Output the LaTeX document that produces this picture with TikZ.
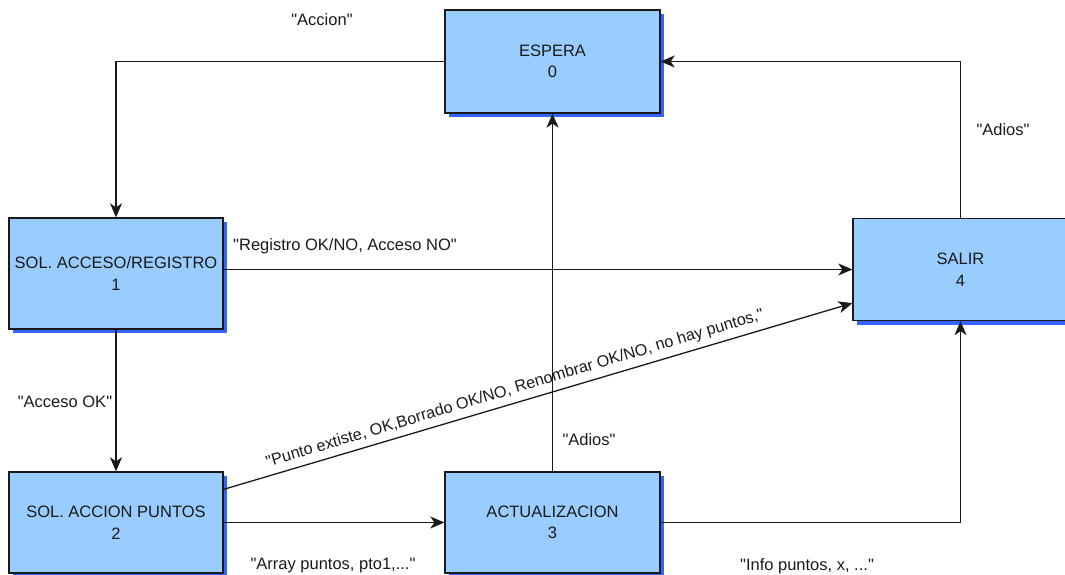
\documentclass[tikz,border=0pt]{standalone}
\usepackage{fontspec}
\setmainfont{Liberation Sans}[Ligatures=TeXOff]
\usetikzlibrary{arrows.meta,shadows}
\definecolor{boxfill}{HTML}{99CCFF}
\definecolor{shadowblue}{HTML}{3366FF}
\definecolor{linec}{HTML}{1A1A1A}
\begin{document}
\begin{tikzpicture}[x=1pt,y=-1pt,
  every node/.style={font=\fontsize{16.5}{21.5}\selectfont, text=linec},
  state/.style={rectangle, draw=linec, line width=1.3pt, fill=boxfill, align=center, inner sep=0pt,
     drop shadow={shadow xshift=4pt, shadow yshift=-4pt, fill=shadowblue, opacity=1}},
  arr/.style={draw=linec, line width=1.3pt, -{Stealth[length=14pt,width=12pt,inset=4pt]}},
  lbl/.style={inner sep=1pt}]
\clip (0,0) rectangle (1065,575);
\useasboundingbox (0,0) rectangle (1065,575);
\node[state, minimum width=215pt, minimum height=103pt] (e0) at (552.5,61.5) {ESPERA\\0};
\node[state, minimum width=214pt, minimum height=111pt] (s1) at (116,273.5) {SOL. ACCESO/REGISTRO\\1};
\node[state, minimum width=215pt, minimum height=102pt] (s4) at (960.5,269.5) {SALIR\\4};
\node[state, minimum width=214pt, minimum height=101pt] (s2) at (116,522.5) {SOL. ACCION PUNTOS\\2};
\node[state, minimum width=215pt, minimum height=101pt] (s3) at (552.5,522.5) {ACTUALIZACION\\3};
\coordinate (p1) at ([yshift=-18pt]s2.north east);
\coordinate (p2) at ([yshift=18pt]s4.south west);
% connectors
\draw[arr] (e0.west) -| (s1.north);
\draw[arr] (s4.north) |- (e0.east);
\draw[arr] (s1.east |- s4.west) -- (s4.west);
\draw[arr] (s1.south) -- (s2.north);
\draw[arr] (p1) -- (p2);
\draw[arr] (s2.east) -- (s3.west);
\draw[arr] (s3.north) -- (e0.south);
\draw[arr] (s3.east) -| (s4.south);
% labels
\node[lbl] (l1) at (322,20) {"Accion"};
\node[lbl] (l2) at (1003,130) {"Adios"};
\node[lbl] (l3) at (345,246) {"Registro OK/NO, Acceso NO"};
\node[lbl] (l4) at (65,402) {"Acceso OK"};
\node[lbl] (l5) at (589,440) {"Adios"};
\node[lbl] (l6) at (333,566) {"Array puntos, pto1,..."};
\node[lbl] (l7) at (807,566) {"Info puntos, x, ..."};
\node[lbl, rotate=16.6, font=\fontsize{16.2}{20}\selectfont] (l8) at (515,389) {"Punto extiste, OK,Borrado OK/NO, Renombrar OK/NO, no hay puntos,"};
\end{tikzpicture}
\end{document}
